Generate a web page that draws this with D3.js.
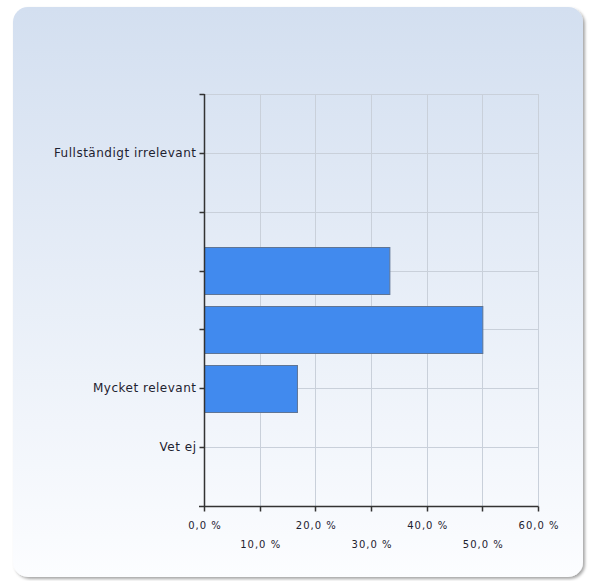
<!DOCTYPE html>
<html><head><meta charset="utf-8">
<script src="https://cdn.jsdelivr.net/npm/d3@7"></script>
<style>body{margin:0;background:#fff}svg{display:block}</style>
</head><body>
<script>
const categories = ["Fullständigt irrelevant", "", "", "", "Mycket relevant", "Vet ej"];
const values = [0, 0, 33.3, 50.0, 16.7, 0];
const xTicks = [0, 10, 20, 30, 40, 50, 60];

const W = 589, H = 581;
const svg = d3.select("body").append("svg").attr("width", W).attr("height", H);
const defs = svg.append("defs");
const g1 = defs.append("linearGradient").attr("id","bg").attr("x1",0).attr("y1",0).attr("x2",0).attr("y2",1);
g1.append("stop").attr("offset","0%").attr("stop-color","#d3dff0");
g1.append("stop").attr("offset","100%").attr("stop-color","#fcfdff");
const f = defs.append("filter").attr("id","sh").attr("x","-5%").attr("y","-5%").attr("width","110%").attr("height","110%");
f.append("feDropShadow").attr("dx",2).attr("dy",2).attr("stdDeviation",1.5).attr("flood-color","#000").attr("flood-opacity",0.35);

svg.append("rect").attr("x",13).attr("y",7).attr("width",570).attr("height",570)
  .attr("rx",15).attr("fill","url(#bg)").attr("filter","url(#sh)");

const L = 204, R = 538, T = 94, B = 506;
const x = d3.scaleLinear().domain([0, 60]).range([L, R]);
const y = d3.scalePoint().domain(d3.range(categories.length)).range([T, B]).padding(1);
const step = y.step();

const font = "'DejaVu Sans', Verdana, sans-serif";
const grid = svg.append("g").attr("stroke","#c9d0da").attr("stroke-width",1);
xTicks.forEach(t => grid.append("line").attr("x1",Math.round(x(t))+0.5).attr("x2",Math.round(x(t))+0.5).attr("y1",T).attr("y2",B));
const hLines = [T].concat(categories.map((c,i)=>y(i)));
hLines.forEach(v => grid.append("line").attr("x1",L).attr("x2",R).attr("y1",Math.round(v)+0.5).attr("y2",Math.round(v)+0.5));

const bh = step * 0.8;
const barData = values.map((v,i) => ({v, i})).filter(d => d.v > 0);
svg.append("g").selectAll("rect").data(barData).join("rect")
  .attr("x", x(0)+0.5)
  .attr("y", d => Math.round(y(d.i) - bh/2) + 0.5)
  .attr("width", d => x(d.v) - x(0))
  .attr("height", Math.round(bh))
  .attr("fill","#418aee").attr("stroke","#5f7595").attr("stroke-width",1);

// y axis
const ya = svg.append("g").attr("transform",`translate(${L+0.5},0)`);
ya.append("line").attr("y1",T).attr("y2",B+0.5).attr("stroke","#333").attr("stroke-width",1.5);
hLines.forEach(v => ya.append("line").attr("x1",-5).attr("x2",0).attr("y1",Math.round(v)+0.5).attr("y2",Math.round(v)+0.5).attr("stroke","#333").attr("stroke-width",1.5));
categories.forEach((c,i) => ya.append("text").attr("x",-8).attr("y",y(i)).attr("dy","0.35em")
  .attr("text-anchor","end").attr("font-family",font).attr("font-size",12).attr("letter-spacing","0.5")
  .attr("fill","#1e2230").text(c));

// x axis
const xa = svg.append("g").attr("transform",`translate(0,${B+0.5})`);
xa.append("line").attr("x1",L-5).attr("x2",R+0.5).attr("stroke","#333").attr("stroke-width",1.5);
xTicks.forEach((t,i) => {
  xa.append("line").attr("x1",Math.round(x(t))+0.5).attr("x2",Math.round(x(t))+0.5).attr("y1",0).attr("y2",5).attr("stroke","#333").attr("stroke-width",1.5);
  xa.append("text").attr("x",x(t)+1).attr("y", i%2===0 ? 22 : 41)
    .attr("text-anchor","middle").attr("font-family",font).attr("font-size",10).attr("letter-spacing","1")
    .attr("fill","#1e2230").text(d3.format(".1f")(t).replace(".",",") + " %");
});
</script>
</body></html>
